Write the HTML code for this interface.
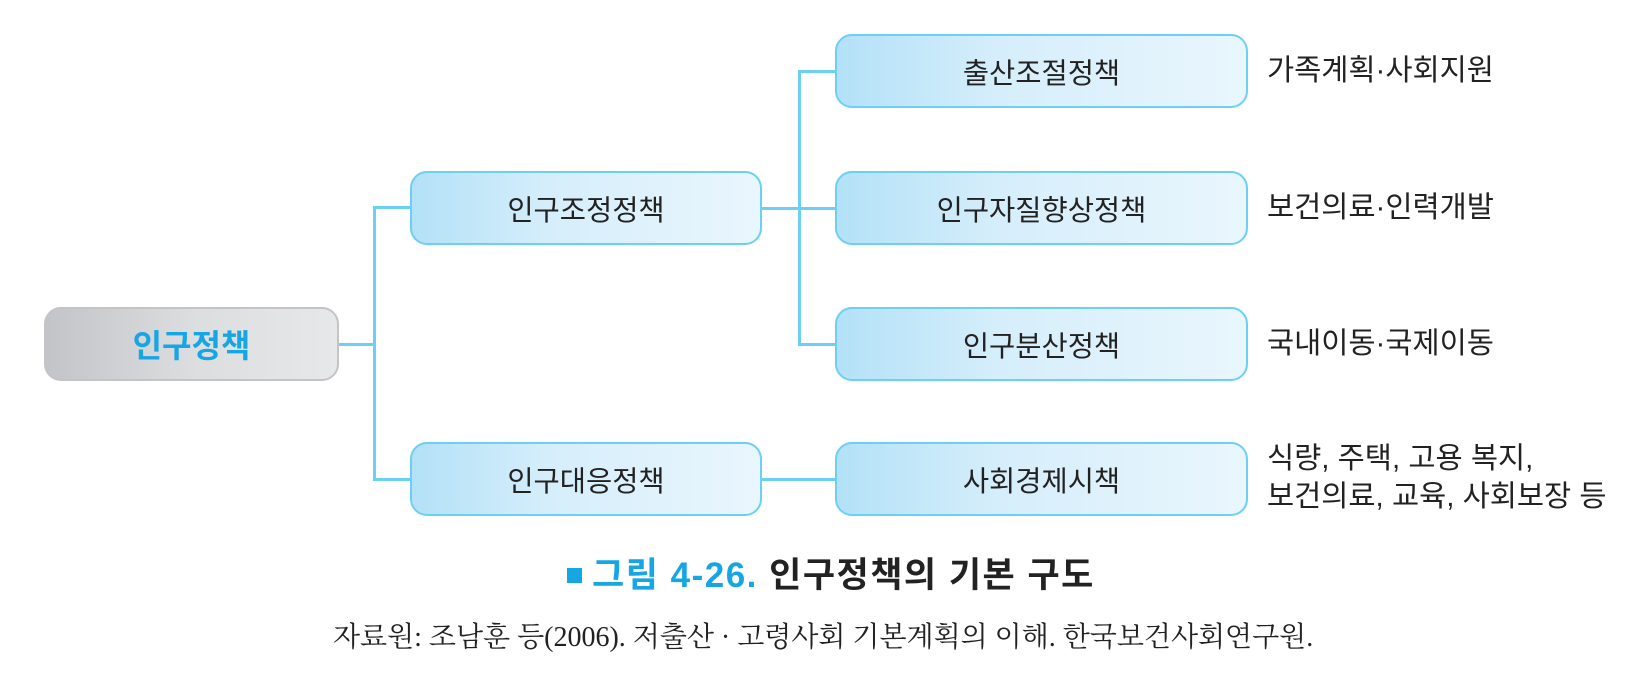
<!DOCTYPE html>
<html><head><meta charset="utf-8"><style>
body{margin:0;width:1651px;height:696px;background:#fff;position:relative;overflow:hidden;font-family:"Liberation Sans","Noto Sans CJK KR",sans-serif;}
.b{position:absolute;box-sizing:border-box;border:2.5px solid #6cd0f2;border-radius:17px;background:linear-gradient(90deg,#b3e1f7,#d6eefb 40%,#e9f6fd);display:flex;align-items:center;justify-content:center;font-size:28.5px;color:#222;}
.l{position:absolute;background:#6cd0f2;}
.t{position:absolute;font-size:29.5px;color:#222;line-height:38px;white-space:nowrap;}
</style></head><body>
<div class="b" style="left:44px;top:307px;width:295px;height:74px;border-color:#c4c4c6;background:linear-gradient(90deg,#c3c4c7,#dcdddf 50%,#e7e8e9);font-weight:bold;color:#16a6e4;font-size:32px;">인구정책</div>
<div class="b" style="left:410px;top:171px;width:352px;height:74px;">인구조정정책</div>
<div class="b" style="left:410px;top:442px;width:352px;height:74px;">인구대응정책</div>
<div class="b" style="left:835px;top:34px;width:413px;height:74px;">출산조절정책</div>
<div class="b" style="left:835px;top:171px;width:413px;height:74px;">인구자질향상정책</div>
<div class="b" style="left:835px;top:307px;width:413px;height:74px;">인구분산정책</div>
<div class="b" style="left:835px;top:442px;width:413px;height:74px;">사회경제시책</div>
<div class="l" style="left:339px;top:343px;width:36px;height:2.5px"></div>
<div class="l" style="left:373px;top:206px;width:2.5px;height:274px"></div>
<div class="l" style="left:373px;top:206px;width:38px;height:2.5px"></div>
<div class="l" style="left:373px;top:478px;width:38px;height:2.5px"></div>
<div class="l" style="left:762px;top:207px;width:74px;height:2.5px"></div>
<div class="l" style="left:762px;top:478px;width:74px;height:2.5px"></div>
<div class="l" style="left:798px;top:70px;width:2.5px;height:275px"></div>
<div class="l" style="left:798px;top:70px;width:38px;height:2.5px"></div>
<div class="l" style="left:798px;top:343px;width:38px;height:2.5px"></div>
<div class="t" style="left:1267px;top:52px">가족계획·사회지원</div>
<div class="t" style="left:1267px;top:189px">보건의료·인력개발</div>
<div class="t" style="left:1267px;top:325px">국내이동·국제이동</div>
<div class="t" style="left:1267px;top:440px">식량, 주택, 고용 복지,<br>보건의료, 교육, 사회보장 등</div>
<div style="position:absolute;left:567px;top:568px;width:15px;height:15px;background:#16a6e4"></div>
<div style="position:absolute;left:592px;top:555px;font-size:35px;font-weight:bold;white-space:nowrap;line-height:42px;letter-spacing:1.5px;color:#16a6e4">그림 4-26. <span style="color:#222">인구정책의 기본 구도</span></div>
<div style="position:absolute;left:333px;top:620px;font-size:28px;white-space:nowrap;line-height:36px;color:#222;font-family:'Liberation Serif','Noto Serif CJK SC',serif">자료원: 조남훈 등(2006). 저출산 · 고령사회 기본계획의 이해. 한국보건사회연구원.</div>
</body></html>
